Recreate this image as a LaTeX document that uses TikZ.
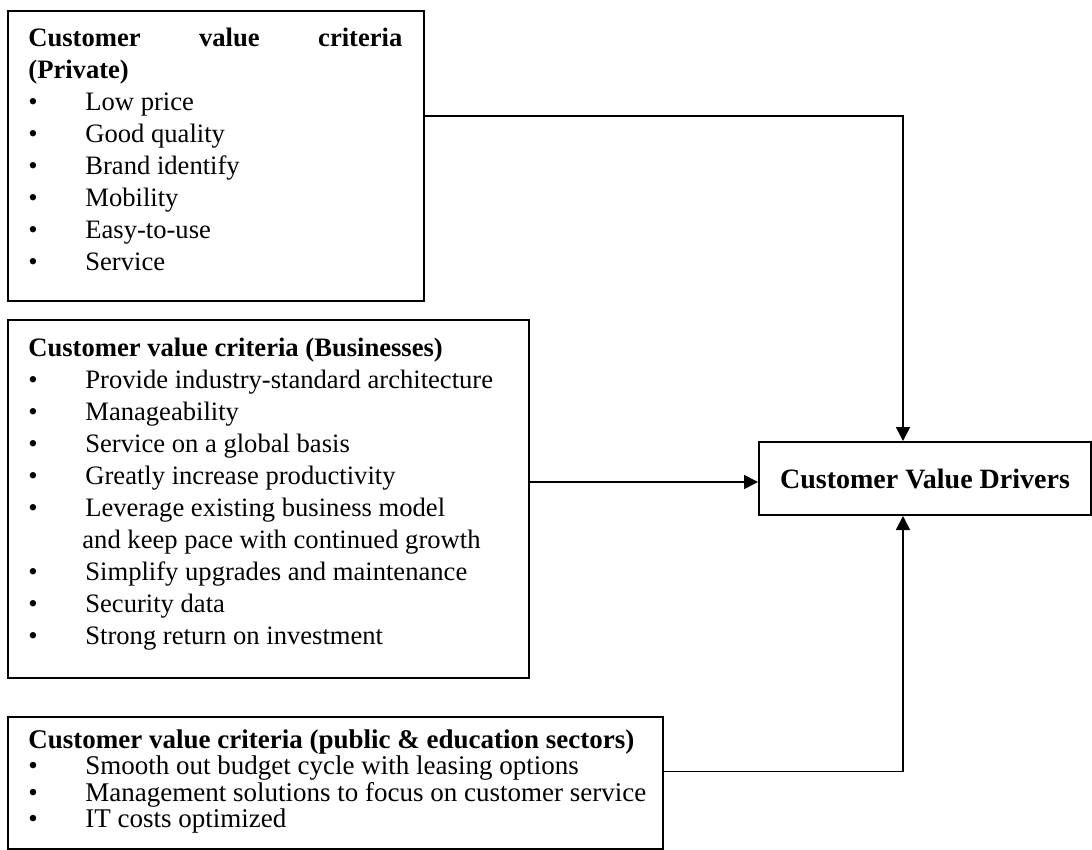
\documentclass[tikz,border=0pt]{standalone}
\usepackage{fontspec}
\setmainfont{Liberation Serif}
\usetikzlibrary{arrows.meta}

% one bullet line of a criteria list
\newcommand\critem[1]{\makebox[28.5pt][l]{\textbullet}#1}

\begin{document}
\begin{tikzpicture}[x=0.5pt,y=-0.5pt,
    box/.style={draw,line width=1pt,anchor=north west,inner sep=0pt},
    list/.style={anchor=north west,inner sep=0pt,align=left,
      font=\fontsize{13.3}{16}\selectfont},
    flow/.style={line width=0.9pt,-{Triangle[length=7pt,width=7pt]}}]
	\useasboundingbox (0,0) rectangle (1092,850);
	% the three criteria boxes
	\node [box,minimum width=208pt,minimum height=145pt] (priv) at (7,10) {};
	\node [list] (privtxt) at (28,28) {%
		\textbf{\makebox[187pt][s]{Customer value criteria}}\\
		\textbf{(Private)}\\
		\critem{Low price}\\
		\critem{Good quality}\\
		\critem{Brand identify}\\
		\critem{Mobility}\\
		\critem{Easy-to-use}\\
		\critem{Service}};
	\node [box,minimum width=260.5pt,minimum height=179pt] (biz) at (7,319) {};
	\node [list] (biztxt) at (28,338) {%
		\textbf{Customer value criteria (Businesses)}\\
		\critem{Provide industry-standard architecture}\\
		\critem{Manageability}\\
		\critem{Service on a global basis}\\
		\critem{Greatly increase productivity}\\
		\critem{Leverage existing business model}\\
		\hspace{27pt}and keep pace with continued growth\\
		\critem{Simplify upgrades and maintenance}\\
		\critem{Security data}\\
		\critem{Strong return on investment}};
	\node [box,minimum width=327.5pt,minimum height=66pt] (pub) at (7,716) {};
	\node [list,font=\fontsize{13.5}{13.3}\selectfont] (pubtxt) at (28,729) {%
		\textbf{Customer value criteria (public \& education sectors)}\\
		\critem{Smooth out budget cycle with leasing options}\\
		\critem{Management solutions to focus on customer service}\\
		\critem{IT costs optimized}};
	% the target box
	\node [box,minimum width=166pt,minimum height=36.5pt,
	       font=\fontsize{14}{16}\selectfont\bfseries] (drv) at (758,441)
	       {Customer Value Drivers};
	\coordinate (drvtop) at ([xshift=-11pt]drv.north);
	\coordinate (drvbot) at ([xshift=-11pt]drv.south);
	% connectors
	\draw [flow] ([yshift=20pt]priv.east) -| (drvtop);
	\draw [flow] ([yshift=8.5pt]biz.east) -- ([yshift=8.5pt]biz.east -| drv.west);
	\draw [flow] ([yshift=5.75pt]pub.east) -| (drvbot);
\end{tikzpicture}
\end{document}
